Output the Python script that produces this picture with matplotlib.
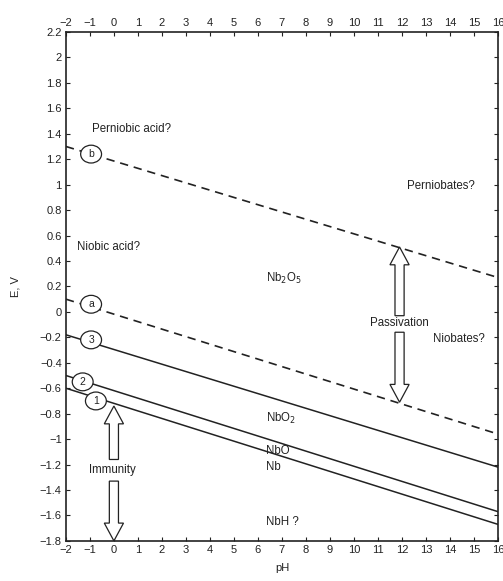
import matplotlib
matplotlib.use("Agg")
import matplotlib.pyplot as plt
from matplotlib.patches import Ellipse, FancyArrow

plt.rcParams['font.family'] = ['Liberation Sans', 'DejaVu Sans']

# Data: line endpoints (E, V) at pH -2 and pH 16
ph_ends = [-2, 16]
line_1 = [-0.60, -1.67]
line_2 = [-0.50, -1.57]
line_3 = [-0.18, -1.22]
line_a = [0.10, -0.96]
line_b = [1.30, 0.27]

solid_lines = [line_1, line_2, line_3]
dashed_lines = [line_a, line_b]

# circle labels: (label, pH, E)
circle_labels = ["b", "a", "3", "2", "1"]
circle_ph = [-0.95, -0.95, -0.95, -1.3, -0.75]
circle_e = [1.24, 0.06, -0.22, -0.55, -0.70]

# region labels
region_texts = ["Perniobic acid?", "Niobic acid?", "Perniobates?", "Nb$_2$O$_5$",
                "Niobates?", "NbO$_2$", "NbO", "Nb", "NbH ?"]
region_ph = [-0.9, -1.55, 12.2, 6.35, 13.3, 6.35, 6.35, 6.35, 6.35]
region_e = [1.44, 0.51, 0.99, 0.26, -0.21, -0.84, -1.09, -1.22, -1.65]

xticks = list(range(-2, 17))
yticks = [2.2, 2, 1.8, 1.6, 1.4, 1.2, 1, 0.8, 0.6, 0.4, 0.2, 0, -0.2, -0.4,
          -0.6, -0.8, -1, -1.2, -1.4, -1.6, -1.8]

fig = plt.figure(figsize=(5.03, 5.81), dpi=100)
ax = fig.add_axes([0.131, 0.069, 0.859, 0.876])
ax.set_xlim(-2, 16)
ax.set_ylim(-1.8, 2.2)

col = '#222222'
for ln in solid_lines:
    ax.plot(ph_ends, ln, color=col, lw=1.1, zorder=2)
for ln in dashed_lines:
    ax.plot(ph_ends, ln, color=col, lw=1.2, ls=(0, (5, 3.5)), zorder=2)

for lab, x, y in zip(circle_labels, circle_ph, circle_e):
    ax.add_patch(Ellipse((x, y), 0.87, 0.14, facecolor='white', edgecolor=col,
                         lw=0.9, zorder=3))
    ax.text(x, y, lab, ha='center', va='center', fontsize=7.5, color=col, zorder=4)

for t, x, y in zip(region_texts, region_ph, region_e):
    ax.text(x, y, t, ha='left', va='center', fontsize=8.3, color=col)

# arrows
akw = dict(width=0.38, head_width=0.8, head_length=0.14, facecolor='white',
           edgecolor=col, lw=0.9, length_includes_head=True, zorder=3)
ax.add_patch(FancyArrow(11.9, -0.03, 0, 0.54, **akw))
ax.add_patch(FancyArrow(11.9, -0.16, 0, -0.55, **akw))
ax.text(11.9, -0.09, "Passivation", ha='center', va='center', fontsize=8.3, color=col)
ax.add_patch(FancyArrow(0.0, -1.16, 0, 0.42, **akw))
ax.add_patch(FancyArrow(0.0, -1.33, 0, -0.47, **akw))
ax.text(-0.05, -1.24, "Immunity", ha='center', va='center', fontsize=8.3, color=col)

ax.set_xticks(xticks)
ax.set_yticks(yticks)
ax.set_yticklabels([f"{v:g}".replace('-', '\u2212') for v in yticks])
ax.tick_params(direction='in', top=True, right=True, labeltop=True,
               labelright=False, labelsize=8, length=3, width=0.8, colors=col,
               pad=3)
for s in ax.spines.values():
    s.set_linewidth(1.2)
    s.set_color(col)

ax.set_xlabel("pH", fontsize=8, color=col, labelpad=6)
ax.set_ylabel("E, V", fontsize=8, color=col, labelpad=14)

fig.savefig("out.png", dpi=100)
